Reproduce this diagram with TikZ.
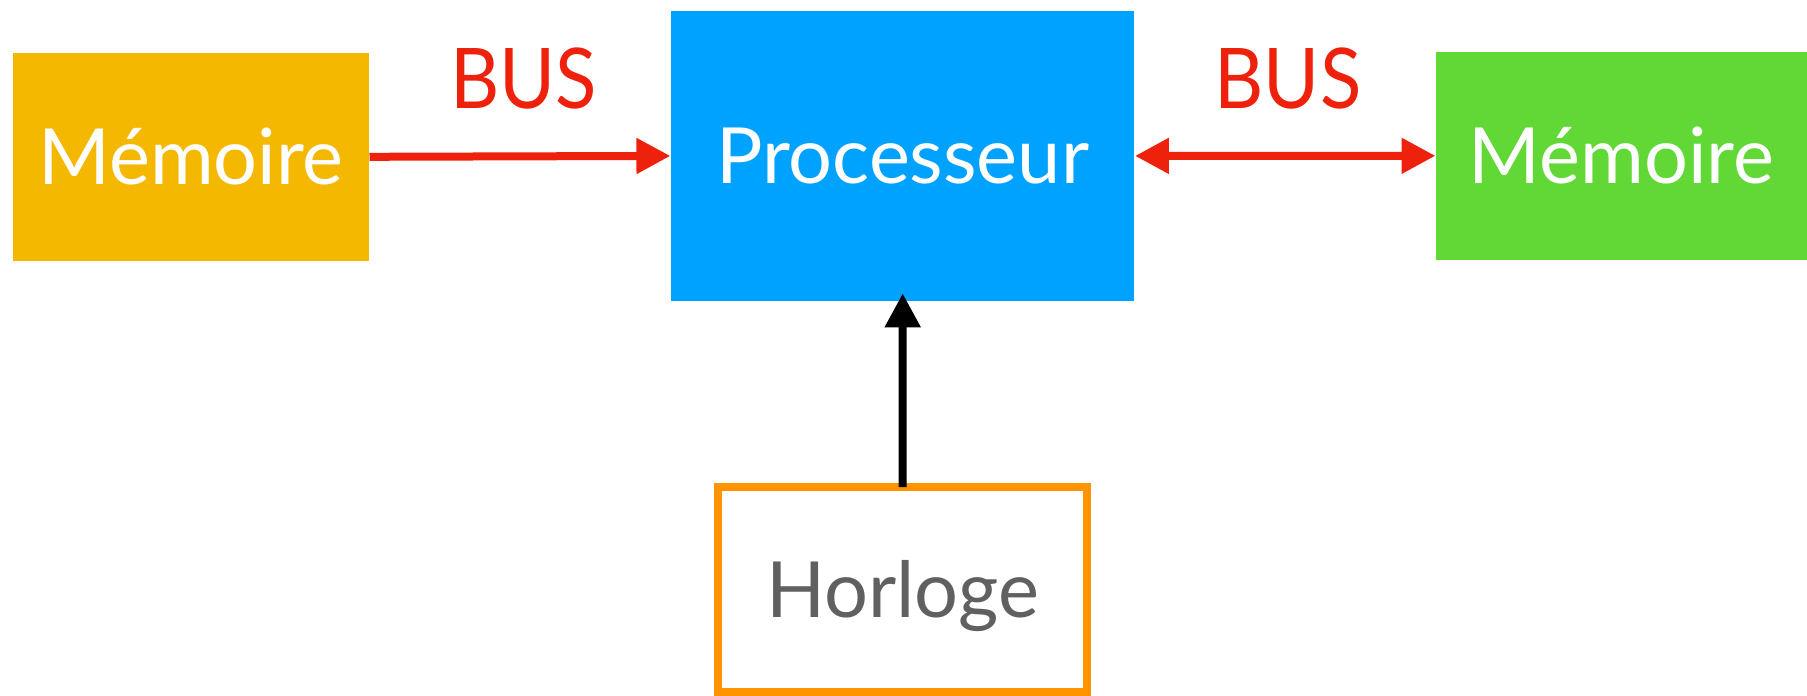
\documentclass[tikz,border=0pt]{standalone}
\usepackage{fontspec}
\setmainfont{Lato}
\usetikzlibrary{arrows.meta}
\definecolor{memyellow}{HTML}{F5B800}
\definecolor{procblue}{HTML}{00A2FF}
\definecolor{memgreen}{HTML}{61D836}
\definecolor{clockorange}{HTML}{FF9300}
\definecolor{busred}{HTML}{EE220C}
\definecolor{clockgray}{HTML}{606060}
\tikzset{
  blockbox/.style={rectangle, inner sep=0pt, text=white, font=\fontsize{31pt}{31pt}\selectfont, text height=22pt, text depth=0pt, align=center},
  buslabel/.style={text=busred, font=\fontsize{33.5pt}{33.5pt}\selectfont, text height=24pt, text depth=0pt, inner sep=0pt},
  busarrow/.style={draw=busred, line width=3.2pt},
}
\begin{document}
\begin{tikzpicture}[x=0.4pt,y=-0.4pt]
\useasboundingbox (0,0) rectangle (1807,695);
\node[blockbox, fill=memyellow, minimum width=142.4pt, minimum height=83pt] (memL) at (191,156.8) {Mémoire};
\node[blockbox, fill=procblue, minimum width=185.4pt, minimum height=115.9pt] (proc) at (902.7,155.9) {Processeur};
\node[blockbox, fill=memgreen, minimum width=148.4pt, minimum height=83pt] (memR) at (1621.5,155.8) {Mémoire};
\node[blockbox, draw=clockorange, line width=3.2pt, fill=white, text=clockgray, minimum width=147.3pt, minimum height=81.7pt] (clock) at (902.6,589.5) {Horloge};
\node[buslabel] (busL) at (523.7,78.5) {\scalebox{0.91}[1]{BUS}};
\node[buslabel] (busR) at (1288,78.5) {\scalebox{0.91}[1]{BUS}};
\draw[busarrow, -{Triangle[length=13.6pt,width=13.6pt]}] (memL.east) -- (proc.west);
\draw[busarrow, {Triangle[length=13.6pt,width=13.6pt]}-{Triangle[length=13.6pt,width=13.6pt]}] (proc.east) -- (memR.west);
\draw[line width=3.2pt, black, -{Triangle[length=13.6pt,width=13.6pt]}, shorten >=-3.2pt] ([yshift=-1.5pt]clock.north) -- (proc.south);
\end{tikzpicture}
\end{document}
